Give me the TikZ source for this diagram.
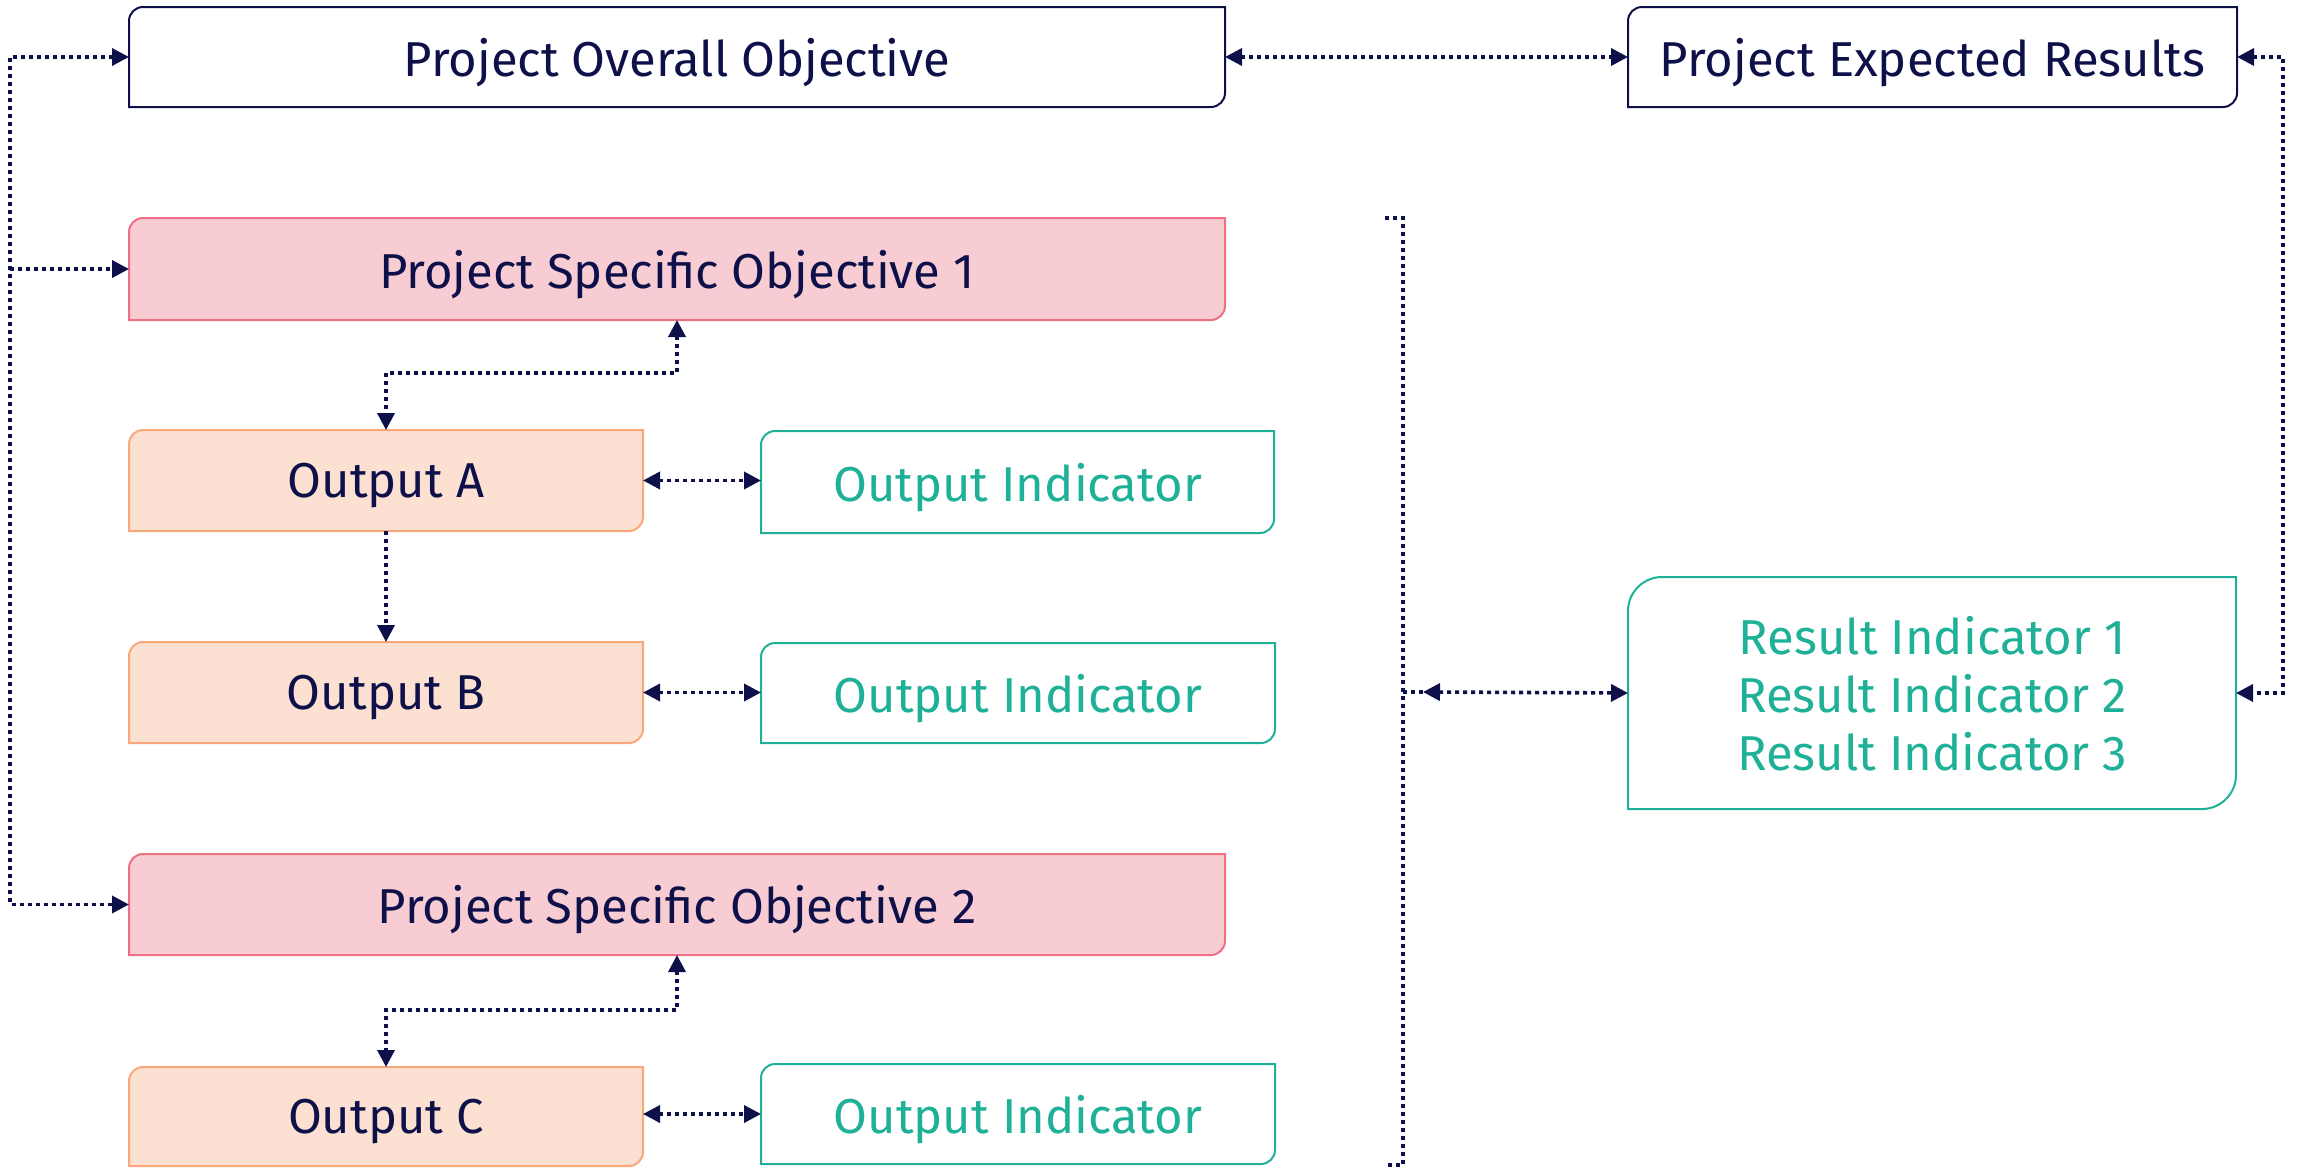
\documentclass[tikz,border=0pt]{standalone}
\usepackage{fontspec}
\setmainfont{Fira Sans}
\usetikzlibrary{arrows.meta,backgrounds,calc}
\definecolor{navy}{HTML}{0E104A}
\definecolor{teal}{HTML}{1FB197}
\definecolor{pinkfill}{HTML}{F8CCD3}
\definecolor{pinkline}{HTML}{EF6F84}
\definecolor{peachfill}{HTML}{FCE1D3}
\definecolor{peachline}{HTML}{F9A77B}
% outline with rounded top-left and bottom-right corners
\newcommand\cutbox[3]{%
  \draw[#2] (#1.south west) -- ([yshift=-#3pt]#1.north west)
    .. controls ([yshift={-0.45*#3pt}]#1.north west) and ([xshift={0.45*#3pt}]#1.north west) .. ([xshift=#3pt]#1.north west)
    -- (#1.north east) -- ([yshift=#3pt]#1.south east)
    .. controls ([yshift={0.45*#3pt}]#1.south east) and ([xshift={-0.45*#3pt}]#1.south east) .. ([xshift=-#3pt]#1.south east)
    -- cycle;}
\begin{document}
\begin{tikzpicture}[x=0.5pt,y=-0.5pt,
  txt/.style={inner sep=0pt, outer sep=0pt, align=center, text depth=0pt, font=\fontsize{24.5}{29}\selectfont},
  navybox/.style={draw=navy, fill=white, line width=1pt},
  pinkbox/.style={draw=pinkline, fill=pinkfill, line width=1pt},
  peachbox/.style={draw=peachline, fill=peachfill, line width=1pt},
  tealbox/.style={draw=teal, fill=white, line width=1pt},
  conn/.style={navy, line width=1.8pt, dash pattern=on 2pt off 2pt, line cap=butt},
  >={Triangle[length=8.5pt,width=8.5pt]}]
\useasboundingbox (0,0) rectangle (2300,1167);

\node[txt, text=navy, minimum width=548pt, minimum height=50pt] (ovr) at (677,57) {Project Overall Objective};
\node[txt, text=navy, minimum width=304.5pt, minimum height=50pt] (exp) at (1932.5,57) {Project Expected Results};
\node[txt, text=navy, minimum width=548pt, minimum height=51pt] (pso1) at (677,269) {Project Specific Objective 1};
\node[txt, text=navy, minimum width=257pt, minimum height=50.5pt] (outA) at (386,480.5) {Output A};
\node[txt, text=teal, minimum width=256.5pt, minimum height=51pt] (oi1) at (1017.5,482) {Output Indicator};
\node[txt, text=navy, minimum width=257pt, minimum height=50.5pt] (outB) at (386,692.5) {Output B};
\node[txt, text=teal, minimum width=257pt, minimum height=50pt] (oi2) at (1018,693) {Output Indicator};
\node[txt, text=teal, minimum width=304pt, minimum height=116pt] (res) at (1932,693) {Result Indicator 1\\Result Indicator 2\\Result Indicator 3};
\node[txt, text=navy, minimum width=548pt, minimum height=50.5pt] (pso2) at (677,904.5) {Project Specific Objective 2};
\node[txt, text=navy, minimum width=257pt, minimum height=49.5pt] (outC) at (386,1116.5) {Output C};
\node[txt, text=teal, minimum width=257pt, minimum height=50pt] (oi3) at (1018,1114) {Output Indicator};

\begin{scope}[on background layer]
  \cutbox{ovr}{navybox}{7}
  \cutbox{exp}{navybox}{7}
  \cutbox{pso1}{pinkbox}{7}
  \cutbox{pso2}{pinkbox}{7}
  \cutbox{outA}{peachbox}{7}
  \cutbox{outB}{peachbox}{7}
  \cutbox{outC}{peachbox}{7}
  \cutbox{oi1}{tealbox}{7}
  \cutbox{oi2}{tealbox}{7}
  \cutbox{oi3}{tealbox}{7}
  \cutbox{res}{tealbox}{17}
\end{scope}

\coordinate (lx) at (10,0);
\coordinate (rx) at (2283,0);
\coordinate (j1) at (386,373);
\coordinate (j2) at (386,1010);
\coordinate (bt) at (1385,218);
\coordinate (btr) at (1403,218);
\coordinate (bbr) at (1403,1165);
\coordinate (bb) at (1385,1165);
\coordinate (bm) at (1403,692);
\coordinate (bm2) at (1423,692);

% left loop
\draw[conn,<->] (ovr.west) -- (lx |- ovr.west) -- (lx |- pso2.west) -- (pso2.west);
\draw[conn,->] (lx |- pso1.west) -- (pso1.west);
% top
\draw[conn,<->] (ovr.east) -- (exp.west);
% right loop
\draw[conn,<->] (exp.east) -- (rx |- exp.east) -- (rx |- res.east) -- (res.east);
% objective to outputs
\draw[conn,<->] (pso1.south) |- (j1) -- (outA.north);
\draw[conn,->] (outA.south) -- (outB.north);
\draw[conn,<->] (pso2.south) |- (j2) -- (outC.north);
% outputs to indicators
\draw[conn,<->] (outA.east) -- (oi1.west |- outA.east);
\draw[conn,<->] (outB.east) -- (oi2.west |- outB.east);
\draw[conn,<->] (outC.east |- oi3.west) -- (oi3.west);
% bracket
\draw[conn] (bt) -- (btr) -- (bbr) -- (bb);
\draw[conn] (bm) -- (bm2);
\draw[conn,<->] (bm2) -- (res.west);
\end{tikzpicture}
\end{document}
